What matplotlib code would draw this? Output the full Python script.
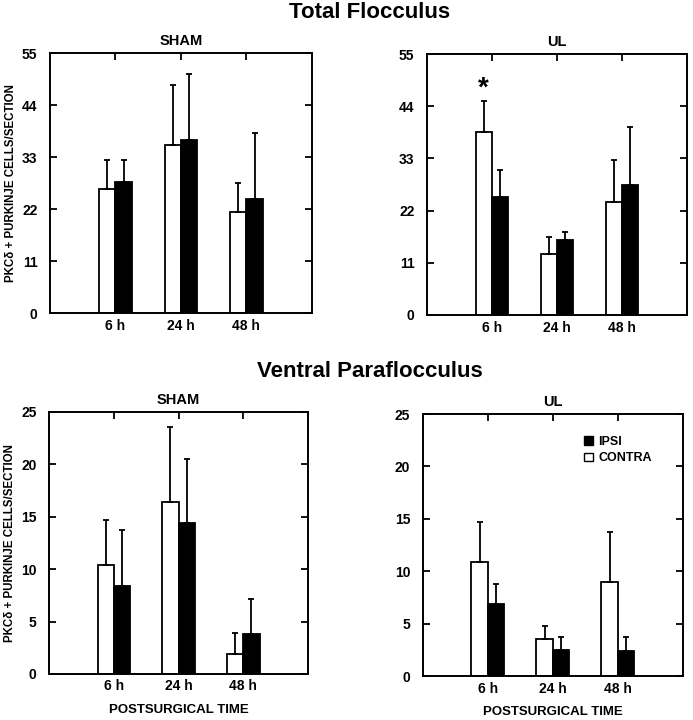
import numpy as np
import matplotlib
matplotlib.use("Agg")
import matplotlib.pyplot as plt
from matplotlib.patches import Patch

plt.rcParams['font.family'] = ['Liberation Sans', 'DejaVu Sans']
plt.rcParams['font.weight'] = 'bold'

times = ['6 h', '24 h', '48 h']

# Total flocculus
tf_sham_contra = [26.2, 35.5, 21.5]
tf_sham_contra_err = [6.3, 12.8, 6.1]
tf_sham_ipsi = [27.7, 36.6, 24.1]
tf_sham_ipsi_err = [4.8, 14.0, 14.1]
tf_ul_contra = [38.5, 12.9, 23.8]
tf_ul_contra_err = [6.5, 3.5, 8.9]
tf_ul_ipsi = [24.8, 15.8, 27.5]
tf_ul_ipsi_err = [5.7, 1.6, 12.1]

# Ventral paraflocculus
vp_sham_contra = [10.4, 16.4, 1.9]
vp_sham_contra_err = [4.3, 7.2, 2.0]
vp_sham_ipsi = [8.4, 14.4, 3.8]
vp_sham_ipsi_err = [5.3, 6.1, 3.3]
vp_ul_contra = [10.9, 3.5, 9.0]
vp_ul_contra_err = [3.8, 1.3, 4.7]
vp_ul_ipsi = [6.9, 2.5, 2.4]
vp_ul_ipsi_err = [1.9, 1.2, 1.3]

fig = plt.figure(figsize=(6.93, 7.2), dpi=100)

panels = [
    ([0.072, 0.565, 0.378, 0.361], 'SHAM', tf_sham_contra, tf_sham_contra_err, tf_sham_ipsi, tf_sham_ipsi_err, 55, 11),
    ([0.616, 0.5625, 0.375, 0.3625], 'UL', tf_ul_contra, tf_ul_contra_err, tf_ul_ipsi, tf_ul_ipsi_err, 55, 11),
    ([0.0707, 0.064, 0.374, 0.364], 'SHAM', vp_sham_contra, vp_sham_contra_err, vp_sham_ipsi, vp_sham_ipsi_err, 25, 5),
    ([0.610, 0.061, 0.375, 0.364], 'UL', vp_ul_contra, vp_ul_contra_err, vp_ul_ipsi, vp_ul_ipsi_err, 25, 5),
]

w = 0.25
x = np.arange(1, 4)
ekw = dict(ecolor='black', elinewidth=1.3, capsize=2, capthick=1.3)
axes = []
for rect, title, c, ce, ip, ie, ymax, step in panels:
    ax = fig.add_axes(rect)
    ax.bar(x - w / 2, c, w, color='white', edgecolor='black', linewidth=1.3,
           yerr=[np.zeros(3), ce], error_kw=ekw)
    ax.bar(x + w / 2, ip, w, color='black', edgecolor='black', linewidth=1.3,
           yerr=[np.zeros(3), ie], error_kw=ekw)
    ax.set_xlim(0, 4)
    ax.set_ylim(0, ymax)
    ax.set_yticks(np.arange(0, ymax + 1, step))
    ax.set_xticks(x)
    ax.set_xticklabels(times, fontsize=10, fontweight='bold')
    ax.tick_params(axis='x', bottom=False, top=True, direction='in', length=5, width=1.3, pad=4)
    ax.tick_params(axis='y', left=True, right=True, direction='in', length=5, width=1.3, labelsize=10, pad=9)
    for lab in ax.get_yticklabels():
        lab.set_fontweight('bold')
    for s in ax.spines.values():
        s.set_linewidth(1.4)
    ax.set_title(title, fontsize=10.5, fontweight='bold', pad=6)
    axes.append(ax)

ylab = 'PKCδ + PURKINJE CELLS/SECTION'
axes[0].set_ylabel(ylab, fontsize=8.3, fontweight='bold')
axes[0].yaxis.set_label_coords(-0.125, 0.5)
axes[2].set_ylabel(ylab, fontsize=8.3, fontweight='bold')
axes[2].yaxis.set_label_coords(-0.128, 0.5)
for ax in axes[2:]:
    ax.set_xlabel('POSTSURGICAL TIME', fontsize=9.5, fontweight='bold')
    ax.xaxis.set_label_coords(0.5, -0.115)

axes[1].text(1 - w / 2, 47.6, '*', ha='center', va='center', fontsize=20, fontweight='bold')

axes[3].legend(handles=[Patch(facecolor='black', edgecolor='black', label='IPSI'),
                        Patch(facecolor='white', edgecolor='black', label='CONTRA')],
               loc='upper right', bbox_to_anchor=(0.91, 0.945), frameon=False,
               prop={'size': 9, 'weight': 'bold'}, handlelength=0.7, handleheight=0.7,
               handletextpad=0.4, labelspacing=0.35, borderaxespad=0.2)

fig.text(0.534, 0.983, 'Total Flocculus', ha='center', va='center', fontsize=16, fontweight='bold')
fig.text(0.534, 0.484, 'Ventral Paraflocculus', ha='center', va='center', fontsize=16, fontweight='bold')

fig.savefig('out.png', dpi=100)
